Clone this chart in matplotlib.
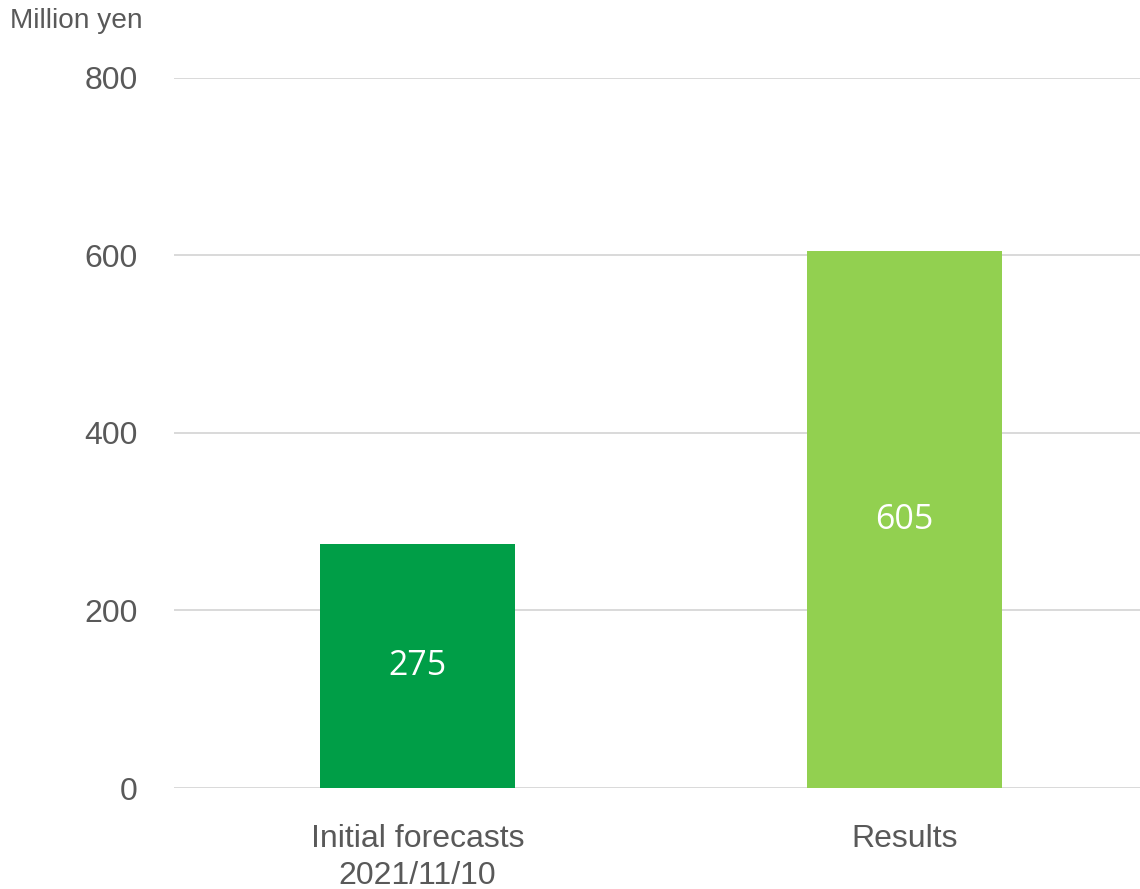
import matplotlib
matplotlib.use("Agg")
import matplotlib.pyplot as plt

categories = ["Initial forecasts\n2021/11/10", "Results"]
values = [275, 605]
colors = ["#009E47", "#92D050"]
yticks = [0, 200, 400, 600, 800]

text_color = "#595959"
plt.rcParams["font.family"] = ["Liberation Sans", "DejaVu Sans"]

fig = plt.figure(figsize=(11.4, 8.89), dpi=100)
ax = fig.add_axes([0.1524, 0.1136, 0.855, 0.7987])

x = range(len(categories))
bars = ax.bar(x, values, width=0.4, color=colors, zorder=3)

for b, v in zip(bars, values):
    ax.text(b.get_x() + b.get_width() / 2, v / 2, str(v),
            ha="center", va="center", color="white", fontsize=24.5,
            family=["Open Sans", "DejaVu Sans"], zorder=4)

ax.set_xlim(-0.5, 1.5)
ax.set_ylim(0, 800)
ax.set_yticks(yticks)
ax.set_xticks(list(x))
ax.set_xticklabels(categories, linespacing=1.3)
ax.tick_params(axis="y", length=0, pad=26, labelsize=23, labelcolor=text_color)
ax.tick_params(axis="x", length=0, pad=26, labelsize=23, labelcolor=text_color)

ax.grid(axis="y", color="#D9D9D9", linewidth=1.4, zorder=0)
ax.set_axisbelow(True)
for s in ax.spines.values():
    s.set_visible(False)

fig.text(10 / 1140, 1 - 21 / 889, "Million yen", ha="left", va="center",
         fontsize=20.2, color=text_color)

fig.savefig("out.png", dpi=100)
